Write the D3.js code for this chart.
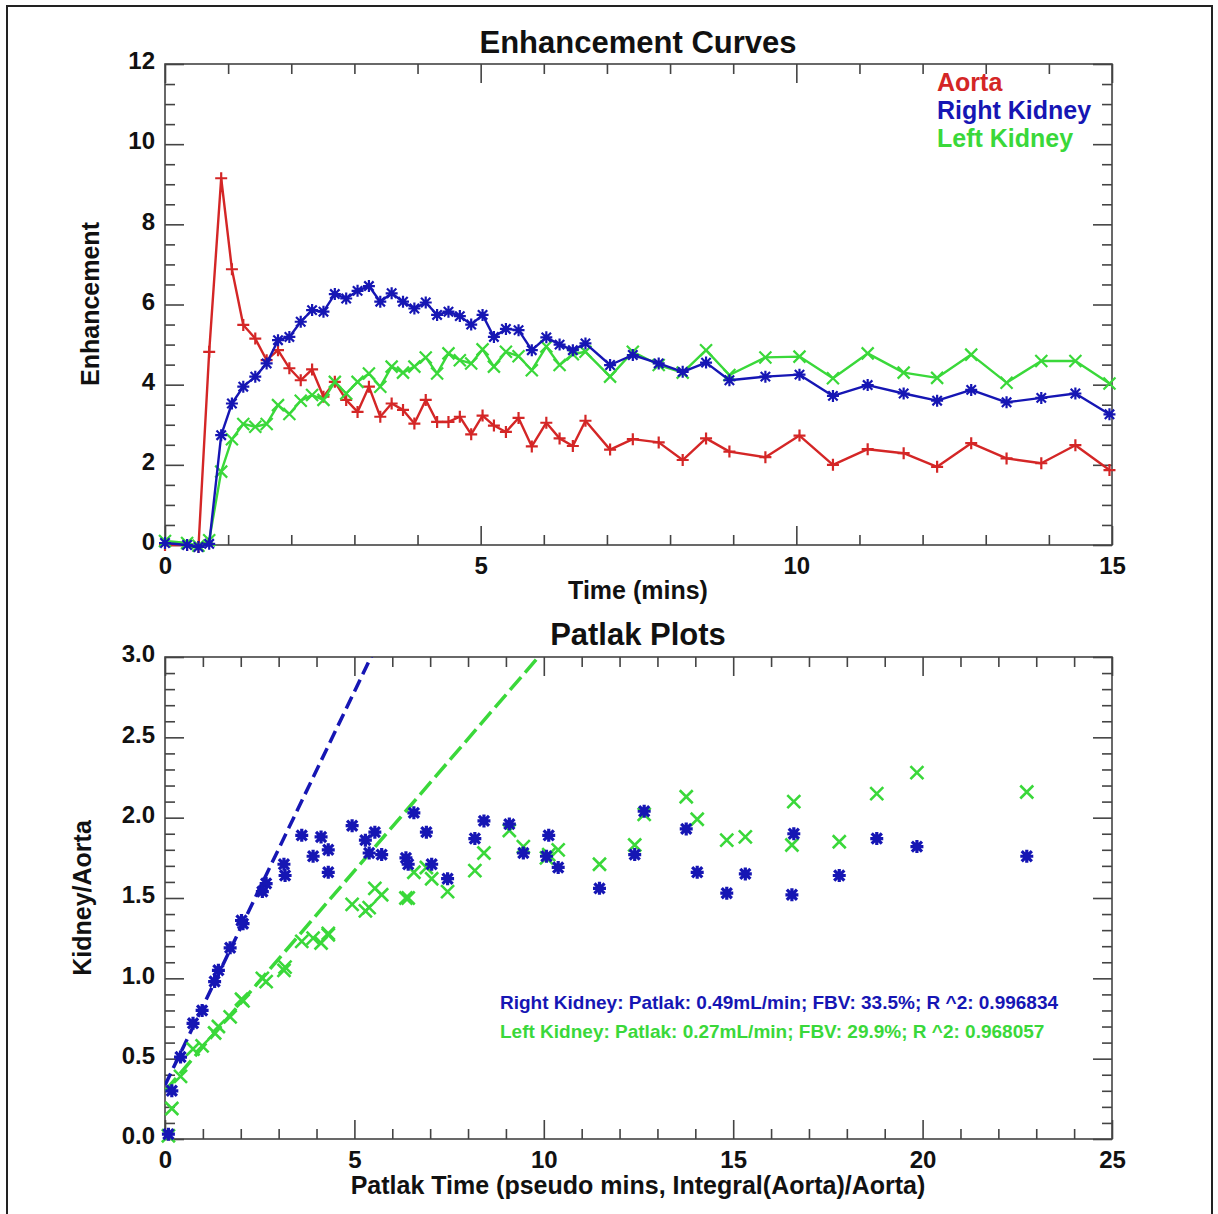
<!DOCTYPE html>
<html>
<head>
<meta charset="utf-8">
<script src="https://cdn.jsdelivr.net/npm/d3@7"></script>
<style>
  body { margin: 0; background: #fff; }
  text { font-family: "Liberation Sans", Arial, Helvetica, sans-serif; font-weight: bold; }
</style>
</head>
<body>
<script>
"use strict";

// ---- top chart data: enhancement vs time (mins) ----
const times = [0, 0.35, 0.53, 0.70, 0.89, 1.06, 1.24, 1.43, 1.61, 1.79, 1.97, 2.15, 2.33,
  2.51, 2.69, 2.87, 3.05, 3.23, 3.41, 3.59, 3.77, 3.95, 4.13, 4.31, 4.49, 4.67, 4.85,
  5.03, 5.21, 5.40, 5.60, 5.81, 6.04, 6.25, 6.46, 6.66, 7.05, 7.41, 7.82, 8.20, 8.57,
  8.94, 9.51, 10.05, 10.58, 11.13, 11.70, 12.23, 12.77, 13.33, 13.88, 14.42, 14.96];

const aorta = [0, 0, -0.05, 4.82, 9.15, 6.88, 5.49, 5.15, 4.61, 4.86, 4.41, 4.11, 4.38,
  3.70, 4.07, 3.62, 3.32, 3.95, 3.20, 3.53, 3.37, 3.03, 3.62, 3.07, 3.07, 3.20, 2.76,
  3.23, 2.98, 2.82, 3.17, 2.46, 3.05, 2.66, 2.47, 3.10, 2.38, 2.64, 2.56, 2.12, 2.66,
  2.33, 2.19, 2.73, 2.00, 2.39, 2.29, 1.95, 2.54, 2.16, 2.04, 2.49, 1.87];

const rightKidney = [0.05, 0, -0.05, 0.03, 2.74, 3.53, 3.95, 4.20, 4.53, 5.11, 5.19, 5.57, 5.86,
  5.82, 6.26, 6.15, 6.34, 6.46, 6.07, 6.28, 6.07, 5.90, 6.05, 5.74, 5.82, 5.71, 5.50,
  5.74, 5.19, 5.39, 5.36, 4.86, 5.18, 5.00, 4.86, 5.03, 4.49, 4.74, 4.53, 4.32, 4.55,
  4.11, 4.20, 4.25, 3.72, 3.99, 3.78, 3.60, 3.87, 3.56, 3.67, 3.78, 3.26];

const leftKidney = [0.10, 0.05, -0.02, 0.12, 1.83, 2.64, 3.02, 2.95, 3.02, 3.49, 3.27, 3.60, 3.74,
  3.62, 4.07, 3.78, 4.07, 4.28, 3.95, 4.45, 4.30, 4.45, 4.68, 4.28, 4.78, 4.61, 4.53,
  4.88, 4.45, 4.82, 4.71, 4.36, 4.95, 4.49, 4.76, 4.82, 4.20, 4.82, 4.49, 4.30, 4.86,
  4.24, 4.68, 4.70, 4.16, 4.78, 4.30, 4.17, 4.75, 4.05, 4.59, 4.59, 4.03];

// ---- bottom chart data: patlak plot ----
const patlakTime = [0.09, 0.18, 0.41, 0.74, 0.98, 1.31, 1.41, 1.72, 2.02, 2.06, 2.67, 2.57,
  3.14, 3.61, 3.17, 4.12, 3.91, 4.31, 4.94, 4.31, 5.29, 5.54, 5.39, 6.57, 5.72, 6.36,
  6.90, 6.42, 8.42, 7.04, 8.18, 9.09, 7.46, 10.13, 9.46, 10.07, 12.65, 10.38, 12.40,
  13.76, 11.47, 16.60, 14.05, 15.32, 18.79, 14.83, 17.80, 19.85, 16.55, 22.75];

const rightRatio = [0.03, 0.30, 0.51, 0.72, 0.80, 0.98, 1.05, 1.19, 1.36, 1.34, 1.59, 1.54,
  1.71, 1.89, 1.64, 1.88, 1.76, 1.80, 1.95, 1.66, 1.86, 1.91, 1.78, 2.03, 1.77, 1.75,
  1.91, 1.71, 1.98, 1.71, 1.87, 1.96, 1.62, 1.89, 1.78, 1.76, 2.04, 1.69, 1.77,
  1.93, 1.56, 1.90, 1.66, 1.65, 1.87, 1.53, 1.64, 1.82, 1.52, 1.76];

const leftRatio = [0.02, 0.19, 0.39, 0.56, 0.58, 0.66, 0.70, 0.76, 0.87, 0.86, 0.98, 1.00,
  1.05, 1.23, 1.07, 1.22, 1.25, 1.27, 1.46, 1.28, 1.42, 1.56, 1.44, 1.66, 1.52, 1.50,
  1.69, 1.50, 1.78, 1.62, 1.67, 1.92, 1.54, 1.77, 1.82, 1.75, 2.02, 1.80, 1.83,
  2.13, 1.71, 2.10, 1.99, 1.88, 2.15, 1.86, 1.85, 2.28, 1.83, 2.16];

// patlak fits: [slope, intercept]
const rightFit = [0.49, 0.335];
const leftFit = [0.274, 0.299];

const seriesNames = ["Aorta", "Right Kidney", "Left Kidney"];
const fitNotes = [
  "Right Kidney: Patlak: 0.49mL/min; FBV: 33.5%; R ^2: 0.996834",
  "Left Kidney: Patlak: 0.27mL/min; FBV: 29.9%; R ^2: 0.968057"
];

const RED = "#d42626", BLUE = "#1616b4", GREEN = "#3ad83a";

const W = 1218, H = 1214;
const svg = d3.select("body").append("svg").attr("width", W).attr("height", H);

// outer frame
svg.append("rect").attr("x", 7).attr("y", 6).attr("width", 1205).attr("height", 1220)
  .attr("fill", "none").attr("stroke", "#222").attr("stroke-width", 2);

function markerPath(type, r) {
  const p = `M${-r},0H${r}M0,${-r}V${r}`;
  const d = r * 0.78;
  const x = `M${-d},${-d}L${d},${d}M${-d},${d}L${d},${-d}`;
  if (type === "plus") return p;
  if (type === "times") return `M${-r},${-r}L${r},${r}M${-r},${r}L${r},${-r}`;
  return p + x;
}

function drawAxes(g, x, y, xMajor, xMinor, yMajor, yMinor, yFmt) {
  const [x0, x1] = x.range();
  const [y0, y1] = y.range();
  const none = () => "";
  g.append("g").attr("transform", `translate(0,${y0})`)
    .call(d3.axisBottom(x).tickValues(xMajor).tickSize(-19).tickPadding(12).tickFormat(d3.format("d")));
  g.append("g").attr("transform", `translate(0,${y0})`)
    .call(d3.axisBottom(x).tickValues(xMinor).tickSize(-10).tickFormat(none));
  g.append("g").attr("transform", `translate(0,${y1})`)
    .call(d3.axisTop(x).tickValues(xMajor).tickSize(-19).tickFormat(none));
  g.append("g").attr("transform", `translate(0,${y1})`)
    .call(d3.axisTop(x).tickValues(xMinor).tickSize(-10).tickFormat(none));
  g.append("g").attr("class", "ylab").attr("transform", `translate(${x0},0)`)
    .call(d3.axisLeft(y).tickValues(yMajor).tickSize(-19).tickPadding(10).tickFormat(yFmt));
  g.append("g").attr("transform", `translate(${x0},0)`)
    .call(d3.axisLeft(y).tickValues(yMinor).tickSize(-10).tickFormat(none));
  g.append("g").attr("transform", `translate(${x1},0)`)
    .call(d3.axisRight(y).tickValues(yMajor).tickSize(-19).tickFormat(none));
  g.append("g").attr("transform", `translate(${x1},0)`)
    .call(d3.axisRight(y).tickValues(yMinor).tickSize(-10).tickFormat(none));
  g.selectAll(".domain").remove();
  g.selectAll(".tick line").attr("stroke", "#444").attr("stroke-width", 1.6);
  g.selectAll(".tick text").attr("font-size", 24).attr("fill", "#111")
    .style("font-family", "'Liberation Sans', Arial, sans-serif").style("font-weight", "bold");
  g.selectAll(".ylab .tick text").attr("dy", "0.2em");
  g.append("rect").attr("x", x0).attr("y", y1).attr("width", x1 - x0).attr("height", y0 - y1)
    .attr("fill", "none").attr("stroke", "#444").attr("stroke-width", 1.6);
}

// ================= top: enhancement curves =================
const xTop = d3.scaleLinear().domain([0, 15]).range([165, 1112]);
const yTop = d3.scaleLinear().domain([0, 12]).range([545, 64]);
const topG = svg.append("g");

drawAxes(topG, xTop, yTop, [0, 5, 10, 15], d3.range(0, 16).filter(v => v % 5),
  d3.range(0, 13, 2), d3.range(0, 12.01, 0.5).filter(v => v % 2), d3.format("d"));

topG.append("text").attr("x", 638).attr("y", 53).attr("text-anchor", "middle")
  .attr("font-size", 31).attr("fill", "#111").text("Enhancement Curves");
topG.append("text").attr("x", 638).attr("y", 599).attr("text-anchor", "middle")
  .attr("font-size", 25).attr("fill", "#111").text("Time (mins)");
topG.append("text").attr("transform", "translate(99,304) rotate(-90)").attr("text-anchor", "middle")
  .attr("font-size", 25).attr("fill", "#111").text("Enhancement");

const topSeries = [
  { name: seriesNames[0], vals: aorta, color: RED, mark: "plus" },
  { name: seriesNames[2], vals: leftKidney, color: GREEN, mark: "times" },
  { name: seriesNames[1], vals: rightKidney, color: BLUE, mark: "asterisk" }
];
const lineTop = d3.line().x(d => xTop(d[0])).y(d => yTop(d[1]));
topSeries.forEach(s => {
  const pts = times.map((t, i) => [t, s.vals[i]]);
  topG.append("path").datum(pts).attr("d", lineTop).attr("fill", "none")
    .attr("stroke", s.color).attr("stroke-width", 2.4).attr("stroke-linejoin", "round");
  topG.append("g").selectAll("path").data(pts).join("path")
    .attr("transform", d => `translate(${xTop(d[0])},${yTop(d[1])})`)
    .attr("d", markerPath(s.mark, 6)).attr("fill", "none")
    .attr("stroke", s.color).attr("stroke-width", 2.2);
});

// legend
const legendColors = [RED, BLUE, GREEN];
topG.append("g").selectAll("text").data(seriesNames).join("text")
  .attr("x", 937).attr("y", (d, i) => 91 + i * 28)
  .attr("font-size", 25).attr("fill", (d, i) => legendColors[i]).text(d => d);

// ================= bottom: patlak plots =================
const xBot = d3.scaleLinear().domain([0, 25]).range([165, 1112]);
const yBot = d3.scaleLinear().domain([0, 3]).range([1139, 657]);
const botG = svg.append("g");

drawAxes(botG, xBot, yBot, [0, 5, 10, 15, 20, 25], d3.range(0, 26).filter(v => v % 5),
  d3.range(0, 3.01, 0.5), d3.range(0, 3.001, 0.1).filter((v, i) => i % 5), d3.format(".1f"));

botG.append("text").attr("x", 638).attr("y", 645).attr("text-anchor", "middle")
  .attr("font-size", 31).attr("fill", "#111").text("Patlak Plots");
botG.append("text").attr("x", 638).attr("y", 1194).attr("text-anchor", "middle")
  .attr("font-size", 25).attr("fill", "#111").text("Patlak Time (pseudo mins, Integral(Aorta)/Aorta)");
botG.append("text").attr("transform", "translate(91,898) rotate(-90)").attr("text-anchor", "middle")
  .attr("font-size", 25).attr("fill", "#111").text("Kidney/Aorta");

svg.append("clipPath").attr("id", "patClip").append("rect")
  .attr("x", 165).attr("y", 657).attr("width", 947).attr("height", 482);

const fits = [{ f: rightFit, color: BLUE, dash: "13,6" }, { f: leftFit, color: GREEN, dash: "17,6" }];
fits.forEach(o => {
  const xs = [0, 25];
  botG.append("path").attr("clip-path", "url(#patClip)")
    .datum(xs.map(v => [v, o.f[1] + o.f[0] * v]))
    .attr("d", d3.line().x(d => xBot(d[0])).y(d => yBot(d[1])))
    .attr("fill", "none").attr("stroke", o.color).attr("stroke-width", 3.5)
    .attr("stroke-dasharray", o.dash);
});

const patSeries = [
  { vals: leftRatio, color: GREEN, mark: "times", w: 2.6 },
  { vals: rightRatio, color: BLUE, mark: "asterisk", w: 3.2 }
];
patSeries.forEach(s => {
  botG.append("g").selectAll("path").data(patlakTime.map((t, i) => [t, s.vals[i]])).join("path")
    .attr("transform", d => `translate(${xBot(d[0])},${yBot(d[1])})`)
    .attr("d", markerPath(s.mark, 6.5)).attr("fill", "none")
    .attr("stroke", s.color).attr("stroke-width", s.w);
});

botG.append("g").selectAll("text").data(fitNotes).join("text")
  .attr("x", 500).attr("y", (d, i) => 1009 + i * 29)
  .attr("font-size", 19)
  .attr("fill", (d, i) => i ? GREEN : BLUE).text(d => d);
</script>
</body>
</html>
